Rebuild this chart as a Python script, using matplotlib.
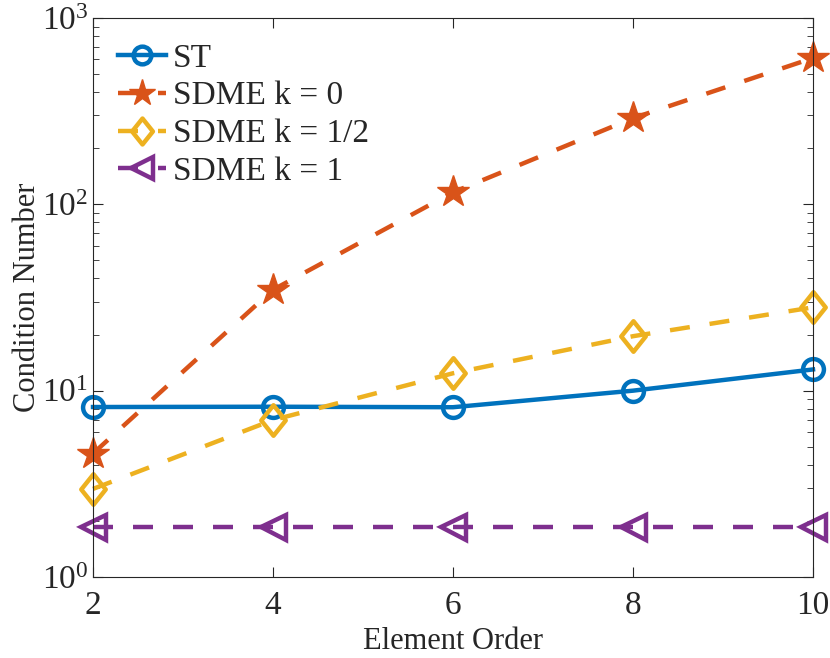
import matplotlib
matplotlib.use("Agg")
import matplotlib.pyplot as plt
from matplotlib.path import Path
from matplotlib.ticker import LogLocator, NullFormatter

plt.rcParams['font.family'] = ['Liberation Serif', 'DejaVu Serif']
plt.rcParams['mathtext.fontset'] = 'stix'

order = [2, 4, 6, 8, 10]
st = [8.17, 8.2, 8.15, 10.0, 13.0]
sdme_k0 = [4.6, 34.8, 116, 290, 610]
sdme_k12 = [2.97, 6.96, 12.4, 19.6, 28.0]
sdme_k1 = [1.86, 1.86, 1.86, 1.86, 1.86]

# MATLAB style diamond, a bit taller than wide
diamond = Path([(0, 1), (0.8, 0), (0, -1), (-0.8, 0), (0, 1)],
               [Path.MOVETO, Path.LINETO, Path.LINETO, Path.LINETO, Path.CLOSEPOLY])

fig = plt.figure(figsize=(8.3, 6.58), dpi=100)
ax = fig.add_axes([93 / 830, 1 - 577 / 658, 720 / 830, 559 / 658])

lw = 3.2
dash = (4.5, 4.5)
ax.plot(order, st, '-o', color='#0072BD', lw=lw, ms=15, mfc='none', mew=lw, label='ST')
ax.plot(order, sdme_k0, '--*', color='#D95319', lw=lw, ms=24, mew=1, dashes=dash, label='SDME k = 0')
ax.plot(order, sdme_k12, '--', marker=diamond, color='#EDB120', lw=lw, ms=22, mfc='none', mew=lw,
        dashes=dash, label='SDME k = 1/2')
ax.plot(order, sdme_k1, '--<', color='#7E2F8E', lw=lw, ms=18, mfc='none', mew=lw, dashes=dash,
        label='SDME k = 1')

ax.set_yscale('log')
ax.set_xlim(2, 10)
ax.set_ylim(1, 1000)
ax.set_xticks([2, 4, 6, 8, 10])
ax.yaxis.set_major_locator(LogLocator(base=10, numticks=10))
ax.yaxis.set_minor_locator(LogLocator(base=10, subs=range(2, 10), numticks=20))
ax.yaxis.set_minor_formatter(NullFormatter())

ax.tick_params(which='both', direction='in', top=True, right=True, labelsize=24, colors='#262626')
ax.tick_params(which='major', length=7, width=0.8)
ax.tick_params(which='minor', length=4, width=0.6)
ax.tick_params(axis='x', pad=10)
for s in ax.spines.values():
    s.set_color('#262626')
    s.set_linewidth(0.8)

ax.set_xlabel('Element Order', fontsize=22, color='#262626')
ax.set_ylabel('Condition Number', fontsize=22, color='#262626')
ax.xaxis.labelpad = 4
ax.yaxis.labelpad = 0

leg = ax.legend(loc='upper left', frameon=False, fontsize=24, handlelength=1.45,
                handletextpad=0.2, labelspacing=0.22, borderaxespad=0.35, markerscale=0.85)
for t in leg.get_texts():
    t.set_color('#262626')

for line in ax.get_lines():
    line.set_clip_on(False)

fig.savefig('out.png', dpi=100)
